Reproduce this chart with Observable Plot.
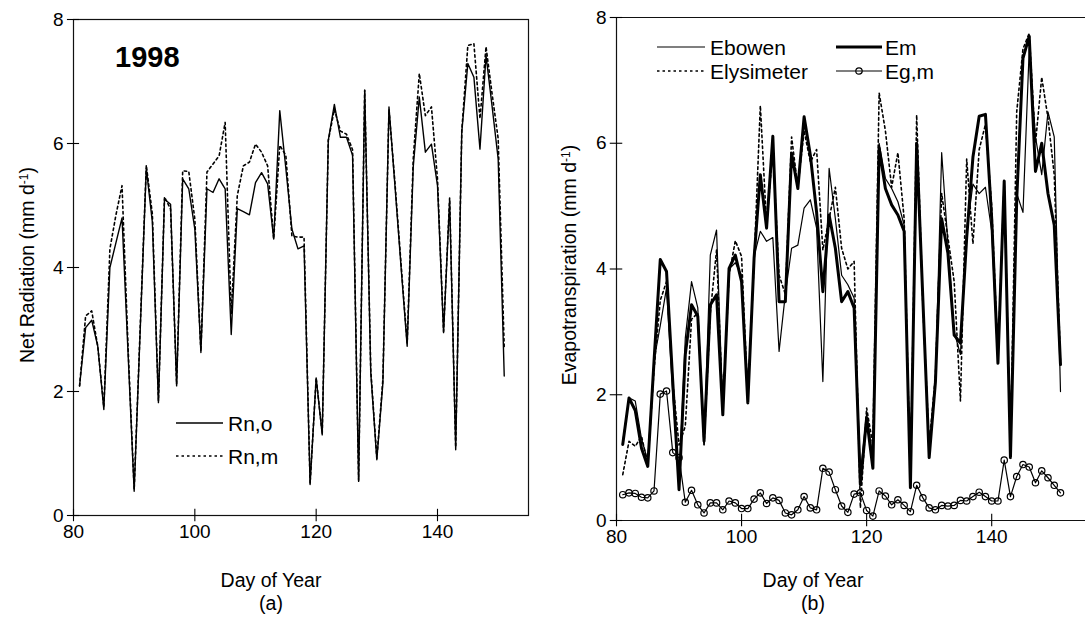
<!DOCTYPE html>
<html><head><meta charset="utf-8">
<script src="https://cdn.jsdelivr.net/npm/d3@7"></script>
<script src="https://cdn.jsdelivr.net/npm/@observablehq/plot@0.6"></script>
<style>
body{margin:0;background:#fff;}
#wrap{position:relative;width:1085px;height:621px;overflow:hidden;font-family:"Liberation Sans",Arial,sans-serif;color:#000;background:#fff;}
.abs{position:absolute;white-space:nowrap;line-height:1;}
.title{font-size:19.5px;}
.ytitle{transform:translate(-50%,-50%) rotate(-90deg);}
.ctr{transform:translate(-50%,-50%);}
.leg{font-size:21px;transform:translateY(-50%);}
.sw{position:absolute;transform:translateY(-50%);}
sup{font-size:0.62em;vertical-align:0.55em;line-height:0;}
#left,#right{position:absolute;top:0;}
#left{left:0;} #right{left:545px;}
</style></head>
<body>
<div id="wrap">
  <div id="left"></div>
  <div id="right"></div>
  <div class="abs" style="left:115px;top:57px;font-size:29px;font-weight:bold;transform:translateY(-50%);">1998</div>
  <div class="abs title ytitle" style="left:28px;top:265px;">Net Radiation (mm d<sup>-1</sup>)</div>
  <div class="abs title ytitle" style="left:570px;top:265px;">Evapotranspiration (mm d<sup>-1</sup>)</div>
  <div class="abs title ctr" style="left:271px;top:581px;">Day of Year</div>
  <div class="abs title ctr" style="left:271px;top:604px;">(a)</div>
  <div class="abs title ctr" style="left:813px;top:581px;">Day of Year</div>
  <div class="abs title ctr" style="left:813px;top:604px;">(b)</div>
  <!-- legend left -->
  <svg class="sw" style="left:176px;top:423px" width="47" height="10"><line x1="0" x2="47" y1="5" y2="5" stroke="#000" stroke-width="1.4"/></svg>
  <div class="abs leg" style="left:228px;top:423px;">Rn,o</div>
  <svg class="sw" style="left:176px;top:456px" width="47" height="10"><line x1="0" x2="47" y1="5" y2="5" stroke="#000" stroke-width="1.6" stroke-dasharray="2.5,3"/></svg>
  <div class="abs leg" style="left:228px;top:456px;">Rn,m</div>
  <!-- legend right -->
  <svg class="sw" style="left:657px;top:47px" width="48" height="10"><line x1="0" x2="48" y1="5" y2="5" stroke="#000" stroke-width="1.2"/></svg>
  <div class="abs leg" style="left:710px;top:47px;">Ebowen</div>
  <svg class="sw" style="left:657px;top:71px" width="48" height="10"><line x1="0" x2="48" y1="5" y2="5" stroke="#000" stroke-width="1.6" stroke-dasharray="2.5,3"/></svg>
  <div class="abs leg" style="left:710px;top:71px;">Elysimeter</div>
  <svg class="sw" style="left:836px;top:47px" width="46" height="10"><line x1="0" x2="46" y1="5" y2="5" stroke="#000" stroke-width="3"/></svg>
  <div class="abs leg" style="left:885px;top:47px;">Em</div>
  <svg class="sw" style="left:836px;top:71px" width="46" height="10"><line x1="0" x2="46" y1="5" y2="5" stroke="#000" stroke-width="1.2"/><circle cx="23" cy="5" r="3.2" fill="none" stroke="#000" stroke-width="1.2"/></svg>
  <div class="abs leg" style="left:885px;top:71px;">Eg,m</div>
</div>
<script>
const days = [81,82,83,84,85,86,87,88,89,90,91,92,93,94,95,96,97,98,99,100,
  101,102,103,104,105,106,107,108,109,110,111,112,113,114,115,116,117,118,119,120,
  121,122,123,124,125,126,127,128,129,130,131,132,133,134,135,136,137,138,139,140,
  141,142,143,144,145,146,147,148,149,150,151];

const rnO = [2.09,3.03,3.15,2.73,1.71,4.00,4.40,4.80,2.60,0.39,3.00,5.60,4.73,1.82,5.10,5.02,2.09,5.43,5.27,4.62,
  2.63,5.27,5.21,5.43,5.27,2.92,4.95,4.90,4.85,5.37,5.53,5.35,4.46,6.53,5.60,4.62,4.30,4.35,0.50,2.22,
  1.30,6.05,6.63,6.10,6.10,5.81,0.55,6.86,2.30,0.90,2.14,6.59,5.30,4.00,2.73,5.62,6.75,5.86,5.99,5.32,
  2.95,5.08,1.06,6.18,7.29,7.07,5.91,7.42,6.60,5.75,2.25];

const rnM = [2.09,3.22,3.30,2.73,1.75,4.30,4.85,5.32,2.70,0.42,3.05,5.65,4.86,1.85,5.14,4.94,2.12,5.56,5.55,4.78,
  2.65,5.54,5.67,5.80,6.34,3.25,5.16,5.64,5.70,5.99,5.86,5.64,4.46,5.97,5.81,4.51,4.49,4.49,0.52,2.22,
  1.32,6.05,6.55,6.20,6.15,5.90,0.57,6.86,2.35,0.92,2.20,6.55,5.35,4.05,2.78,5.75,7.13,6.45,6.59,5.43,
  2.97,5.12,1.10,6.20,7.58,7.61,6.40,7.56,6.80,6.08,2.70];

const eBowen = [1.25,1.95,1.90,1.30,0.95,2.55,3.10,3.70,2.00,0.60,2.90,3.80,3.38,1.20,4.22,4.62,1.75,4.00,4.10,3.90,
  1.90,4.20,4.60,4.44,4.50,2.69,3.60,4.33,4.38,4.97,5.10,4.65,2.21,5.60,4.80,3.90,3.75,3.54,0.73,1.70,
  1.00,6.00,5.44,5.28,5.07,4.70,0.60,6.00,3.50,1.10,2.20,5.85,4.40,3.00,2.64,4.60,5.35,5.20,5.30,4.60,
  2.50,5.40,1.10,5.20,4.90,7.50,6.10,5.50,6.50,6.10,2.05];

const eLys = [0.73,1.26,1.18,1.34,0.90,2.40,3.50,3.80,2.20,1.20,1.50,3.20,3.30,1.20,3.30,4.30,1.75,3.90,4.45,4.20,
  1.95,4.10,6.60,4.70,5.90,3.90,3.60,6.10,5.30,6.20,5.70,5.90,4.30,4.80,5.30,4.33,4.00,4.12,0.20,1.79,
  1.20,6.80,6.20,5.30,5.85,4.80,0.60,6.45,3.40,1.20,2.30,5.20,4.50,3.80,1.90,5.75,4.40,5.90,6.30,5.00,
  2.60,5.40,1.10,6.50,7.50,7.75,6.00,7.05,6.40,5.50,2.50];

const eM = [1.21,1.95,1.75,1.15,0.86,2.53,4.15,3.96,2.20,0.49,2.64,3.43,3.25,1.26,3.43,3.59,1.68,4.01,4.22,3.80,
  1.87,4.17,5.50,4.65,6.11,3.48,3.48,5.84,5.28,6.42,5.81,4.90,3.64,4.86,4.33,3.48,3.64,3.38,0.57,1.63,
  0.83,5.92,5.28,5.02,4.86,4.60,0.52,6.00,3.50,1.00,2.20,4.80,4.25,2.95,2.82,4.50,5.78,6.43,6.46,4.80,
  2.50,5.40,1.00,5.10,7.35,7.70,5.55,6.00,5.20,4.70,2.48];

const eGm = [0.41,0.44,0.43,0.37,0.36,0.47,2.01,2.06,1.08,1.00,0.29,0.48,0.25,0.12,0.28,0.28,0.17,0.31,0.28,0.19,
  0.19,0.34,0.44,0.27,0.36,0.32,0.12,0.09,0.17,0.38,0.20,0.17,0.83,0.77,0.49,0.23,0.13,0.42,0.44,0.16,
  0.07,0.47,0.39,0.25,0.33,0.24,0.14,0.56,0.36,0.20,0.17,0.24,0.23,0.24,0.32,0.31,0.38,0.45,0.38,0.31,
  0.31,0.96,0.38,0.70,0.89,0.85,0.60,0.79,0.68,0.56,0.44];

const xTicks = [80, 100, 120, 140];
const yTicks = [0, 2, 4, 6, 8];
const xDomain = [80, 155];
const yDomain = [0, 8];

const rows = days.map((d, i) => ({day: d, rno: rnO[i], rnm: rnM[i], eb: eBowen[i], el: eLys[i], em: eM[i], eg: eGm[i]}));

const svgStyle = {fontFamily: "'Liberation Sans', Arial, sans-serif", fontSize: "19px", color: "#000", background: "transparent", overflow: "visible"};
const fmt = d => String(d);

function axes() {
  return [
    Plot.axisX(xTicks, {tickSize: 0, tickPadding: 9, label: null, fontSize: 19, tickFormat: fmt}),
    Plot.axisY(yTicks, {tickSize: 0, tickPadding: 10, label: null, fontSize: 19, tickFormat: fmt}),
    Plot.ruleX(xTicks, {x: d => d, y1: -0.1, y2: 0.1, stroke: "#000", strokeWidth: 1.1}),
    Plot.ruleY(yTicks, {y: d => d, x1: 79, x2: 81, stroke: "#000", strokeWidth: 1.1})
  ];
}

const left = Plot.plot({
  width: 545, height: 621,
  marginLeft: 73, marginRight: 17, marginTop: 19, marginBottom: 106,
  style: svgStyle,
  x: {domain: xDomain, label: null},
  y: {domain: yDomain, label: null},
  marks: [
    Plot.frame({stroke: "#111", strokeWidth: 1.2}),
    ...axes(),
    Plot.line(rows, {x: "day", y: "rnm", stroke: "#000", strokeWidth: 1.6, strokeDasharray: "2.5,3"}),
    Plot.line(rows, {x: "day", y: "rno", stroke: "#000", strokeWidth: 1.4})
  ]
});
document.getElementById("left").appendChild(left);

const right = Plot.plot({
  width: 540, height: 621,
  marginLeft: 71, marginRight: 0, marginTop: 17, marginBottom: 101,
  style: svgStyle,
  x: {domain: xDomain, label: null},
  y: {domain: yDomain, label: null},
  marks: [
    Plot.ruleY([0, 8], {stroke: "#111", strokeWidth: 1.2}),
    Plot.ruleX([80], {stroke: "#111", strokeWidth: 1.2}),
    ...axes(),
    Plot.line(rows, {x: "day", y: "el", stroke: "#000", strokeWidth: 1.6, strokeDasharray: "2.5,3"}),
    Plot.line(rows, {x: "day", y: "eb", stroke: "#000", strokeWidth: 1.2}),
    Plot.line(rows, {x: "day", y: "em", stroke: "#000", strokeWidth: 3}),
    Plot.line(rows, {x: "day", y: "eg", stroke: "#000", strokeWidth: 1.2}),
    Plot.dot(rows, {x: "day", y: "eg", r: 3.2, fill: "none", stroke: "#000", strokeWidth: 1.2})
  ]
});
document.getElementById("right").appendChild(right);
</script>
</body></html>
